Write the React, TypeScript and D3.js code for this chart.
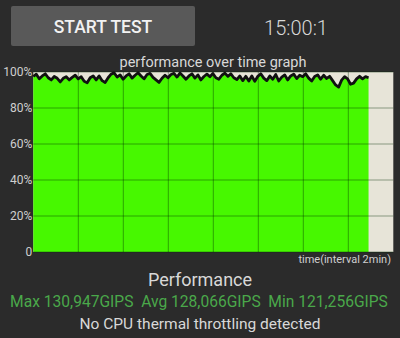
import React from "react";
import * as d3 from "d3";

const perfPct: number[] = [
  97.5, 98.8, 96.2, 97.8, 99.0, 96.8, 95.6, 97.5, 96.5, 94.5,
  96.5, 97.4, 95.6, 97.0, 98.2, 96.2, 97.4, 94.8, 94.0, 96.8,
  97.8, 95.6, 97.8, 95.2, 94.2, 96.8, 98.8, 99.5, 97.2, 98.4,
  96.0, 97.8, 99.0, 96.6, 98.2, 99.6, 97.8, 96.2, 98.6, 99.2,
  97.0, 95.6, 94.2, 96.5, 98.2, 96.8, 98.6, 99.2, 97.2, 99.4,
  97.8, 96.0, 97.8, 99.0, 96.6, 98.4, 95.6, 97.5, 98.8, 97.4,
  99.2, 96.8, 96.0, 98.2, 99.4, 97.6, 99.0, 96.8, 95.8, 97.8,
  95.2, 97.6, 95.0, 97.8, 94.8, 97.6, 99.0, 96.6, 95.2, 97.8,
  96.0, 98.6, 95.0, 97.2, 98.4, 95.6, 97.8, 98.8, 96.4, 98.2,
  97.4, 99.0, 96.6, 95.0, 97.5, 98.4, 96.0, 98.2, 96.4, 97.6,
  95.2, 92.8, 91.6, 95.5, 97.4, 96.2, 93.2, 93.8, 96.2, 97.6,
  96.2, 97.4, 96.8,
];
const testMinutes = 14.9;
const axisMinutes = 16;
const yTicks = [0, 20, 40, 60, 80, 100];
const xGrid = [2, 4, 6, 8, 10, 12, 14];
const titleText = "performance over time graph";
const xAxisLabel = "time(interval 2min)";
const statsText = "Max 130,947GIPS  Avg 128,066GIPS  Min 121,256GIPS";
const footerText = "No CPU thermal throttling detected";

export default function App() {
  const W = 400, H = 338;
  const left = 33.3, right = 393.3, top = 72, bottom = 252;
  const x = d3.scaleLinear().domain([0, axisMinutes]).range([left, right]);
  const y = d3.scaleLinear().domain([0, 100]).range([bottom, top]);
  const step = testMinutes / (perfPct.length - 1);
  const pts: [number, number][] = perfPct.map((v, i) => [i * step, v]);
  const area = d3.area<[number, number]>().x(d => x(d[0])).y0(y(0)).y1(d => y(d[1]));
  const line = d3.line<[number, number]>().x(d => x(d[0])).y(d => y(d[1]));
  const font = "Roboto, 'Noto Sans', sans-serif";
  return (
    <svg width={W} height={H} style={{ position: "fixed", left: 0, top: 0, background: "#2b2b2b" }} fontFamily={font}>
      <rect x={0} y={0} width={W} height={H} fill="#2b2b2b" />
      <rect x={11} y={6} width={184} height={40} rx={2} fill="#595959" />
      <text x={103} y={33} textAnchor="middle" fill="#f2f2f2" fontSize={17.5} fontWeight={500}>START TEST</text>
      <text x={296} y={35} textAnchor="middle" fill="#d8d8d8" fontSize={20} fontWeight={300}>15:00:1</text>
      <text x={213} y={67} textAnchor="middle" fill="#d8d8d8" fontSize={14.5}>{titleText}</text>
      <rect x={left} y={top} width={right - left} height={bottom - top} fill="#e7e4d8" />
      <path d={area(pts) || ""} fill="#47f800" />
      {yTicks.map(t => (
        <line key={"h" + t} x1={left} x2={right} y1={y(t)} y2={y(t)} stroke="rgba(0,40,0,0.4)" strokeWidth={1} />
      ))}
      {xGrid.map(t => (
        <line key={"v" + t} x1={x(t)} x2={x(t)} y1={top} y2={bottom} stroke="rgba(0,40,0,0.4)" strokeWidth={1} />
      ))}
      <path d={line(pts) || ""} fill="none" stroke="#111" strokeWidth={2.8} strokeLinejoin="round" />
      {yTicks.map(t => (
        <text key={"l" + t} x={left - 1} y={y(t) + 4} textAnchor="end" fill="#cfcfcf" fontSize={12}>{t === 0 ? "0" : t + "%"}</text>
      ))}
      <text x={391} y={263} textAnchor="end" fill="#cfcfcf" fontSize={11}>{xAxisLabel}</text>
      <text x={200} y={286} textAnchor="middle" fill="#d8d8d8" fontSize={18}>Performance</text>
      <text x={199} y={306.5} textAnchor="middle" fill="#4aa84a" fontSize={15.6} xmlSpace="preserve" style={{ whiteSpace: "pre" }}>{statsText}</text>
      <text x={200} y={329} textAnchor="middle" fill="#d8d8d8" fontSize={15.5}>{footerText}</text>
    </svg>
  );
}
